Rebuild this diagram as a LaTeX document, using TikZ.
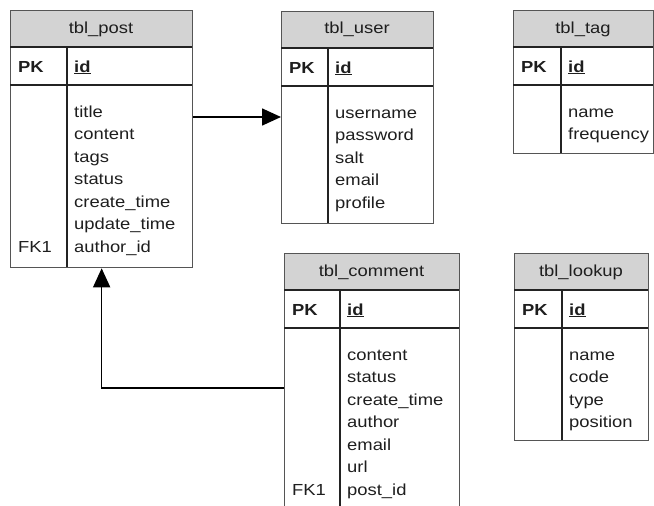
\documentclass[tikz,border=0pt]{standalone}
\usepackage{fontspec}
\setmainfont{Liberation Sans}[FakeStretch=1.15]
\usetikzlibrary{arrows.meta}
\definecolor{framegray}{RGB}{85,85,85}
\definecolor{innergray}{RGB}{35,35,35}
\definecolor{hdrgray}{RGB}{211,211,211}
\definecolor{txtgray}{RGB}{30,30,30}
\tikzset{
  tblbox/.style={draw=framegray, line width=1.3pt, inner sep=0pt, rectangle},
  hdr/.style={fill=hdrgray},
  innerline/.style={draw=innergray, line width=1.2pt},
  txt/.style={inner sep=0pt, text=txtgray, font=\fontsize{16}{19}\selectfont},
  conn/.style={draw=black, line width=1.6pt, -{Triangle[length=19pt,width=17pt]}},
}
\newcommand\erdtab[9]{%
  \pgfmathsetmacro\erdw{#4-#2}\pgfmathsetmacro\erdh{#5-#3}%
  \path[hdr] (#2,#3) rectangle (#4,#3+37);
  \node[tblbox, minimum width=\erdw pt, minimum height=\erdh pt, anchor=north west] (#1) at (#2,#3) {};
  \draw[innerline] (#2,#3+37) -- (#4,#3+37) (#2,#3+75) -- (#4,#3+75) (#6,#3+37) -- (#6,#5);
  \node[txt, anchor=base] (#1-title) at ({(#2+#4)/2},#3+23) {#7};
  \node[txt, anchor=base west] (#1-pk) at (#2+8,#3+62) {\bfseries PK};
  \node[txt, anchor=base west] (#1-id) at (#6+7,#3+62) {\bfseries\underline{id}};
  \foreach \f [count=\i] in {#8} {\node[txt, anchor=base west] (#1-f\i) at (#6+7,#3+84.5+22.5*\i) {\f};}
  \ifnum#9>0 \node[txt, anchor=base west] (#1-fk) at (#2+8,#3+84.5+22.5*#9) {FK1};\fi
}
\begin{document}
\begin{tikzpicture}[x=1pt,y=-1pt]
\useasboundingbox (0,0) rectangle (654,506);
\clip (0,0) rectangle (654,506);
\erdtab{post}{10}{10}{192}{267}{67}{tbl\_post}{title,content,tags,status,create\_time,update\_time,author\_id}{7}
\erdtab{user}{281}{11}{433}{223}{328}{tbl\_user}{username,password,salt,email,profile}{0}
\erdtab{tag}{513}{10}{653}{153}{561}{tbl\_tag}{name,frequency}{0}
\erdtab{comment}{284}{253}{459}{530}{340}{tbl\_comment}{content,status,create\_time,author,email,url,post\_id}{7}
\erdtab{lookup}{514}{253}{648}{440}{562}{tbl\_lookup}{name,code,type,position}{0}
\draw[conn] (post.east |- {0,117}) -- (user.west |- {0,117});
\draw[conn] (comment.west |- {0,388}) -| (post.south);
\end{tikzpicture}
\end{document}
